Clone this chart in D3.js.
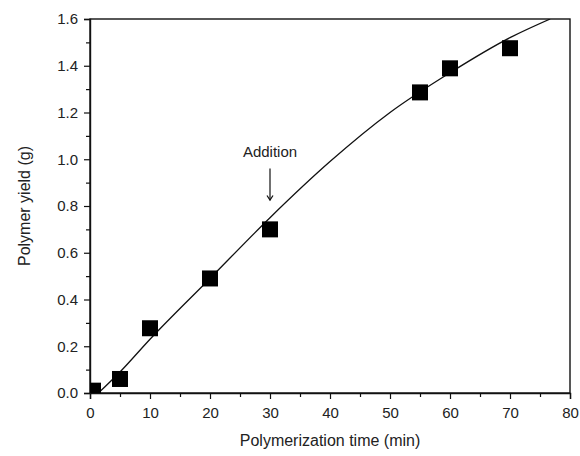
<!DOCTYPE html>
<html>
<head>
<meta charset="utf-8">
<script src="https://cdn.jsdelivr.net/npm/d3@7"></script>
<style>
  body { margin: 0; background: #fff; }
  text { font-family: "Liberation Sans", Arial, sans-serif; fill: #222; }
</style>
</head>
<body>
<div id="chart"></div>
<script>
// measured points
const timeMin = [0.5, 5, 10, 20, 30, 55, 60, 70];
const yieldG = [0.01, 0.06, 0.277, 0.49, 0.70, 1.286, 1.389, 1.475];

// fitted curve
const fitTime = [1.4, 5, 10, 20, 30, 40, 50, 60, 70, 76.7];
const fitYield = [0, 0.09, 0.23, 0.49, 0.75, 0.99, 1.20, 1.37, 1.52, 1.60];

const xTicks = [0, 10, 20, 30, 40, 50, 60, 70, 80];
const yTicks = [0, 0.2, 0.4, 0.6, 0.8, 1.0, 1.2, 1.4, 1.6];

const width = 580;
const height = 456;
const margin = { top: 19, right: 10, bottom: 63, left: 90 };

const svg = d3.select("#chart").append("svg")
    .attr("width", width)
    .attr("height", height);

const x = d3.scaleLinear().domain([0, 80]).range([margin.left, width - margin.right]);
const y = d3.scaleLinear().domain([0, 1.6]).range([height - margin.bottom, margin.top]);

svg.append("defs").append("clipPath").attr("id", "plot")
    .append("rect")
    .attr("x", x(0)).attr("y", y(1.6))
    .attr("width", x(80) - x(0)).attr("height", y(0) - y(1.6));

// frame
svg.append("rect")
    .attr("x", x(0)).attr("y", y(1.6))
    .attr("width", x(80) - x(0)).attr("height", y(0) - y(1.6))
    .attr("fill", "none")
    .attr("stroke", "#111")
    .attr("stroke-width", 1.4);

// x axis
const xAxis = svg.append("g")
    .attr("transform", `translate(0,${y(0)})`)
    .call(d3.axisBottom(x).tickValues(d3.range(0, 81, 5)).tickSize(6).tickPadding(8)
        .tickFormat(d => xTicks.includes(d) ? d : ""));
xAxis.selectAll(".tick line").attr("y2", d => d % 10 === 0 ? 6 : 4);

// y axis
const yAxis = svg.append("g")
    .attr("transform", `translate(${x(0)},0)`)
    .call(d3.axisLeft(y).tickValues(d3.range(0, 17).map(i => i / 10)).tickSize(6).tickPadding(6)
        .tickFormat(d => yTicks.some(t => Math.abs(t - d) < 1e-9) ? d3.format(".1f")(d) : ""));
yAxis.selectAll(".tick line").attr("x2", (d, i) => i % 2 === 0 ? -6 : -4);

svg.selectAll(".domain").attr("stroke", "#111").attr("stroke-width", 1.4);
svg.selectAll(".tick line").attr("stroke", "#111").attr("stroke-width", 1.2);
svg.selectAll(".tick text")
    .style("font-family", "'Liberation Sans', Arial, sans-serif")
    .style("font-size", "15px")
    .attr("fill", "#222");

// fit line
const line = d3.line()
    .x((d, i) => x(fitTime[i]))
    .y(d => y(d))
    .curve(d3.curveMonotoneX);

svg.append("path")
    .datum(fitYield)
    .attr("clip-path", "url(#plot)")
    .attr("d", line)
    .attr("fill", "none")
    .attr("stroke", "#111")
    .attr("stroke-width", 1.3);

// squares
const sq = 16;
svg.append("g")
    .attr("clip-path", "url(#plot)")
    .selectAll("rect")
    .data(timeMin)
    .join("rect")
    .attr("x", d => x(d) - sq / 2)
    .attr("y", (d, i) => y(yieldG[i]) - sq / 2)
    .attr("width", sq)
    .attr("height", sq)
    .attr("fill", "#000");

// annotation
svg.append("text")
    .attr("x", x(30))
    .attr("y", y(1.01))
    .attr("text-anchor", "middle")
    .style("font-size", "15px")
    .text("Addition");

svg.append("line")
    .attr("x1", x(30)).attr("x2", x(30))
    .attr("y1", y(0.96)).attr("y2", y(0.825))
    .attr("stroke", "#111")
    .attr("stroke-width", 1.2);
svg.append("path")
    .attr("d", `M${x(30) - 3},${y(0.845)}L${x(30)},${y(0.825)}L${x(30) + 3},${y(0.845)}`)
    .attr("fill", "none")
    .attr("stroke", "#111")
    .attr("stroke-width", 1.2);

// axis titles
svg.append("text")
    .attr("x", (x(0) + x(80)) / 2)
    .attr("y", 446)
    .attr("text-anchor", "middle")
    .style("font-size", "16px")
    .text("Polymerization time (min)");

svg.append("text")
    .attr("transform", `translate(30,${(y(0) + y(1.6)) / 2}) rotate(-90)`)
    .attr("text-anchor", "middle")
    .style("font-size", "16px")
    .text("Polymer yield (g)");
</script>
</body>
</html>
